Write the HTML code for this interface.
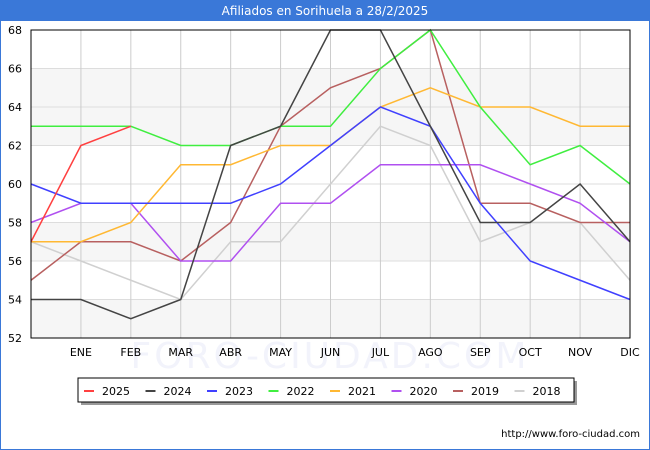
<!DOCTYPE html>
<html><head><meta charset="utf-8"><style>
body{margin:0;background:#fff;font-family:"DejaVu Sans","Liberation Sans",sans-serif}
#wrap{position:relative;width:648px;height:448px;border:1px solid #3a78d8;overflow:hidden}
#title{position:absolute;left:0;top:0;width:648px;height:20px;background:#3a78d8;color:#fff;font-size:12px;text-align:center;line-height:20px}
svg text{font-family:"DejaVu Sans","Liberation Sans",sans-serif}
</style></head><body>
<div id="wrap">
<div id="title">Afiliados en Sorihuela a 28/2/2025</div>
<svg id="chart" width="650" height="450" style="position:absolute;left:-1px;top:-1px"></svg>
</div>
<script>
const months=["","ENE","FEB","MAR","ABR","MAY","JUN","JUL","AGO","SEP","OCT","NOV","DIC"];
const yTicks=[52,54,56,58,60,62,64,66,68];
const seriesNames=["2025","2024","2023","2022","2021","2020","2019","2018"];
const seriesColors=["#ff4040","#444444","#4040ff","#40ee40","#ffb833","#b050f0","#b86060","#d0d0d0"];
const s2025=[57,62,63];
const s2024=[54,54,53,54,62,63,68,68,63,58,58,60,57];
const s2023=[60,59,59,59,59,60,62,64,63,59,56,55,54];
const s2022=[63,63,63,62,62,63,63,66,68,64,61,62,60];
const s2021=[57,57,58,61,61,62,62,64,65,64,64,63,63];
const s2020=[58,59,59,56,56,59,59,61,61,61,60,59,57];
const s2019=[55,57,57,56,58,63,65,66,68,59,59,58,58];
const s2018=[57,56,55,54,57,57,60,63,62,57,58,58,55];
const allSeries=[s2025,s2024,s2023,s2022,s2021,s2020,s2019,s2018];
const L=31,R=630,T=30,B=338,yMin=52,yMax=68;
const xs=i=>L+(R-L)*i/(months.length-1);
const ys=v=>B-(B-T)*(v-yMin)/(yMax-yMin);
const svg=document.getElementById('chart');const NS="http://www.w3.org/2000/svg";
function mk(t,a,p){const e=document.createElementNS(NS,t);for(const k in a)e.setAttribute(k,a[k]);(p||svg).appendChild(e);return e;}
[[62,66],[56,58],[52,54]].forEach(b=>{const r=mk('rect',{x:L,y:ys(b[1]),width:R-L,height:ys(b[0])-ys(b[1]),fill:'#f6f6f6'});

});
const wm=mk('text',{x:330,y:368,'text-anchor':'middle','font-size':'36',fill:'#f2f3fb','letter-spacing':'3'});wm.textContent='FORO-CIUDAD.COM';


yTicks.forEach(v=>{const g=mk('line',{x1:L,x2:R,y1:ys(v),y2:ys(v),stroke:'#dddddd'});


const t=mk('text',{x:22,y:ys(v)+4,'text-anchor':'end','font-size':'11',fill:'#000'});t.textContent=v;

});
months.forEach((m,i)=>{const g=mk('line',{x1:xs(i),x2:xs(i),y1:T,y2:B,stroke:'#cccccc'});


const t=mk('text',{x:xs(i),y:356,'text-anchor':'middle','font-size':'11',fill:'#000'});t.textContent=m;

});
for(let k=allSeries.length-1;k>=0;k--){const d=allSeries[k];
const p=mk('polyline',{points:d.map((v,i)=>xs(i)+','+ys(v)).join(' '),fill:'none',stroke:seriesColors[k],'stroke-width':'1.5'});

}
const fr=mk('rect',{x:L,y:T,width:R-L,height:B-T,fill:'none',stroke:'#000'});


const lg=mk('g',{});


mk('rect',{x:81,y:381,width:496,height:24,fill:'#999'},lg);
mk('rect',{x:78,y:378,width:496,height:24,fill:'#fff',stroke:'#000'},lg);
seriesNames.forEach((n,k)=>{const x=84+k*61.5;
const e=mk('g',{},lg);


mk('line',{x1:x,x2:x+10,y1:391,y2:391,stroke:seriesColors[k],'stroke-width':'2'},e);
const t=mk('text',{x:x+18,y:395,'font-size':'11',fill:'#000'},e);t.textContent=n;});
const u=mk('text',{x:640,y:437,'text-anchor':'end','font-size':'10',fill:'#000'});u.textContent='http://www.foro-ciudad.com';


</script>
</body></html>
